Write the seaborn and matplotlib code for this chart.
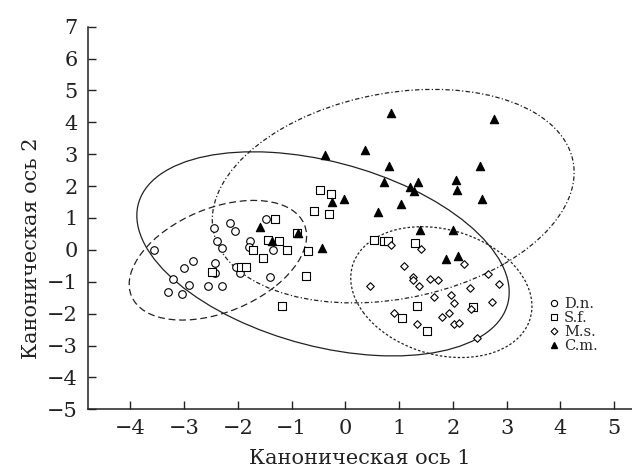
import matplotlib
matplotlib.use("Agg")
import matplotlib.pyplot as plt
from matplotlib.patches import Ellipse
from matplotlib.lines import Line2D
import seaborn as sns
import pandas as pd

# ---- data ----
dn_x = [-3.55, -1.48, -2.15, -2.05, -2.44, -2.39, -2.29, -1.78, -1.79, -1.35, -2.83, -3.00,
        -2.42, -2.42, -3.21, -2.91, -2.56, -2.30, -3.30, -3.04, -2.04, -1.96, -1.40]
dn_y = [0.00, 0.97, 0.85, 0.59, 0.69, 0.27, 0.06, 0.27, 0.10, 0.00, -0.36, -0.58,
        -0.42, -0.73, -0.91, -1.09, -1.13, -1.12, -1.33, -1.38, -0.55, -0.72, -0.86]

sf_x = [-1.30, -1.43, -1.24, -1.71, -1.53, -1.08, -0.69, -0.73, -1.17, -2.47, -1.94, -1.84,
        -0.90, -0.47, -0.27, -0.58, -0.31, 0.54, 0.72, 0.80, 1.29, 1.34, 1.06, 1.51, 2.37]
sf_y = [0.97, 0.31, 0.28, 0.00, -0.25, 0.00, -0.02, -0.81, -1.77, -0.70, -0.55, -0.55,
        0.52, 1.89, 1.76, 1.21, 1.13, 0.32, 0.29, 0.29, 0.22, -1.75, -2.14, -2.54, -1.78]

ms_x = [0.85, 1.40, 1.09, 2.21, 0.46, 1.25, 1.26, 1.37, 1.57, 1.72, 2.65, 2.85, 2.32,
        1.65, 1.97, 2.02, 2.72, 2.33, 0.91, 1.79, 1.92, 1.34, 2.02, 2.11, 2.44]
ms_y = [0.14, 0.02, -0.51, -0.45, -1.13, -0.86, -0.94, -1.13, -0.90, -0.94, -0.76, -1.06, -1.21,
        -1.47, -1.41, -1.66, -1.65, -1.84, -1.98, -2.11, -1.97, -2.33, -2.33, -2.28, -2.76]

cm_x = [0.84, 2.77, -0.38, 0.36, 0.81, 2.51, 0.71, 1.35, 1.21, 1.28, 2.06, 2.07, 2.54,
        1.04, -0.03, -0.25, 0.60, 1.39, 2.00, -0.44, -0.88, 1.87, 2.10, -1.59, -1.37]
cm_y = [4.30, 4.11, 2.98, 3.14, 2.64, 2.64, 2.14, 2.14, 1.97, 1.84, 2.19, 1.89, 1.58,
        1.43, 1.58, 1.49, 1.19, 0.63, 0.63, 0.06, 0.52, -0.30, -0.19, 0.71, 0.27]

species = ["D.n.", "S.f.", "M.s.", "C.m."]

# confidence ellipses: centre x, centre y, width, height, angle
ell_dn = [-2.37, -0.325, 4.21, 2.69, 53.9]
ell_sf = [-0.415, -0.125, 7.84, 5.24, -39.1]
ell_ms = [1.785, -1.325, 4.26, 3.17, -66.3]
ell_cm = [0.89, 1.685, 7.42, 5.92, 44.4]

x_ticks = [-4, -3, -2, -1, 0, 1, 2, 3, 4, 5]
y_ticks = [-5, -4, -3, -2, -1, 0, 1, 2, 3, 4, 5, 6, 7]
x_label = "Каноническая ось 1"
y_label = "Каноническая ось 2"

# ---- build table ----
df = pd.concat([
    pd.DataFrame({"x": dn_x, "y": dn_y, "sp": species[0]}),
    pd.DataFrame({"x": sf_x, "y": sf_y, "sp": species[1]}),
    pd.DataFrame({"x": ms_x, "y": ms_y, "sp": species[2]}),
    pd.DataFrame({"x": cm_x, "y": cm_y, "sp": species[3]}),
], ignore_index=True)

sns.set_theme(style="ticks")
plt.rcParams["font.family"] = ["DejaVu Serif", "Liberation Serif"]
plt.rcParams["axes.unicode_minus"] = True

fig = plt.figure(figsize=(6.32, 4.74), dpi=100)
ax = fig.add_axes([0.1388, 0.1365, 0.8612, 0.8072])

styles = {
    "D.n.": dict(marker="o", s=30, facecolor="white"),
    "S.f.": dict(marker="s", s=28, facecolor="white"),
    "M.s.": dict(marker="D", s=15, facecolor="white"),
    "C.m.": dict(marker="^", s=36, facecolor="black"),
}
for sp in species:
    st = styles[sp]
    sns.scatterplot(data=df[df["sp"] == sp], x="x", y="y", ax=ax,
                    marker=st["marker"], s=st["s"], color=st["facecolor"],
                    edgecolor="black", linewidth=0.8, zorder=3, legend=False)

ell_styles = [
    (ell_dn, (0, (5.5, 3.0))),
    (ell_sf, "-"),
    (ell_ms, (0, (2.0, 1.6))),
    (ell_cm, (0, (3.5, 1.8, 1.0, 1.8))),
]
for (cx, cy, w, h, ang), ls in ell_styles:
    ax.add_patch(Ellipse((cx, cy), w, h, angle=ang, fill=False,
                         edgecolor="#222222", linewidth=0.9, linestyle=ls, zorder=2))

ax.set_xlim(-4.79, 5.33)
ax.set_ylim(-5, 7)
ax.set_xticks(x_ticks)
ax.set_yticks(y_ticks)
ax.tick_params(direction="in", length=6, width=1, labelsize=15, pad=7, colors="#222222")
for s in ["top", "right"]:
    ax.spines[s].set_visible(False)
for s in ["left", "bottom"]:
    ax.spines[s].set_linewidth(1.1)
    ax.spines[s].set_color("#222222")

ax.set_xlabel(x_label, fontsize=15, color="#222222")
ax.set_ylabel(y_label, fontsize=15, color="#222222")
ax.xaxis.set_label_coords(0.5, -0.105)
ax.yaxis.set_label_coords(-0.085, 0.42)

handles = [
    Line2D([], [], linestyle="none", marker="o", markersize=4.5, markerfacecolor="white",
           markeredgecolor="black", markeredgewidth=0.8),
    Line2D([], [], linestyle="none", marker="s", markersize=4.5, markerfacecolor="white",
           markeredgecolor="black", markeredgewidth=0.8),
    Line2D([], [], linestyle="none", marker="D", markersize=3.5, markerfacecolor="white",
           markeredgecolor="black", markeredgewidth=0.8),
    Line2D([], [], linestyle="none", marker="^", markersize=5, markerfacecolor="black",
           markeredgecolor="black"),
]
ax.legend(handles, species, loc="center left", bbox_to_anchor=(0.846, 0.22),
          frameon=False, fontsize=10.5, handlelength=0.8, handletextpad=0.3,
          labelspacing=0.0, borderpad=0, borderaxespad=0)

fig.savefig("out.png", dpi=100)
